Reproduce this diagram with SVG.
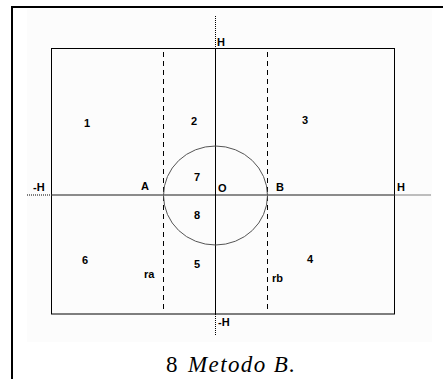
<svg xmlns="http://www.w3.org/2000/svg" width="443" height="379" viewBox="0 0 443 379">
<style>
.lbl{font-family:"Liberation Sans",Arial,sans-serif;font-weight:bold;font-size:11px;fill:#000}
.cap{font-family:"Liberation Serif","Times New Roman",serif;font-size:23px;fill:#000}
.dash{stroke:#000;stroke-width:1;stroke-dasharray:5,4;fill:none}
.dot{stroke:#000;stroke-width:1;stroke-dasharray:1,1;fill:none}
</style>
<rect width="443" height="379" fill="#fff"/>
<rect x="27" y="9" width="405" height="333" fill="#fcfcfc"/>
<path d="M12,379 V7 H443" fill="none" stroke="#000" stroke-width="2"/>
<g id="connectors">
<rect id="frame" x="51.5" y="48.5" width="343" height="265.5" fill="none" stroke="#000" stroke-width="1"/>
<line x1="51.5" y1="195" x2="394.5" y2="195" stroke="#666" stroke-width="1.3"/>
<line x1="215.5" y1="48.5" x2="215.5" y2="314" stroke="#000" stroke-width="1"/>
<line class="dash" x1="163.5" y1="52" x2="163.5" y2="310"/>
<line class="dash" x1="267.5" y1="52" x2="267.5" y2="310"/>
<line class="dot" x1="27" y1="195" x2="51.5" y2="195"/>
<line class="dot" x1="394.5" y1="195" x2="431" y2="195"/>
<line class="dot" x1="215.5" y1="16" x2="215.5" y2="48.5"/>
<line class="dot" x1="215.5" y1="314" x2="215.5" y2="335"/>
<ellipse id="circle" cx="215.5" cy="195.5" rx="52" ry="49.5" fill="none" stroke="#555" stroke-width="1"/>
</g>
<g id="labels">
<text class="lbl" x="217" y="46">H</text>
<text class="lbl" x="84" y="127">1</text>
<text class="lbl" x="191" y="125">2</text>
<text class="lbl" x="302" y="124">3</text>
<text class="lbl" x="33" y="191">-H</text>
<text class="lbl" x="141" y="190">A</text>
<text class="lbl" x="194" y="181">7</text>
<text class="lbl" x="218" y="192">O</text>
<text class="lbl" x="276" y="191">B</text>
<text class="lbl" x="397" y="191">H</text>
<text class="lbl" x="194" y="219">8</text>
<text class="lbl" x="82" y="264">6</text>
<text class="lbl" x="194" y="268">5</text>
<text class="lbl" x="307" y="263">4</text>
<text class="lbl" x="144" y="278">ra</text>
<text class="lbl" x="272" y="282">rb</text>
<text class="lbl" x="218" y="326">-H</text>
</g>
<g id="caption">
<text class="cap" x="166" y="372">8</text>
<text class="cap" x="188" y="372" font-style="italic" textLength="107" lengthAdjust="spacing">Metodo B.</text>
</g>
</svg>
